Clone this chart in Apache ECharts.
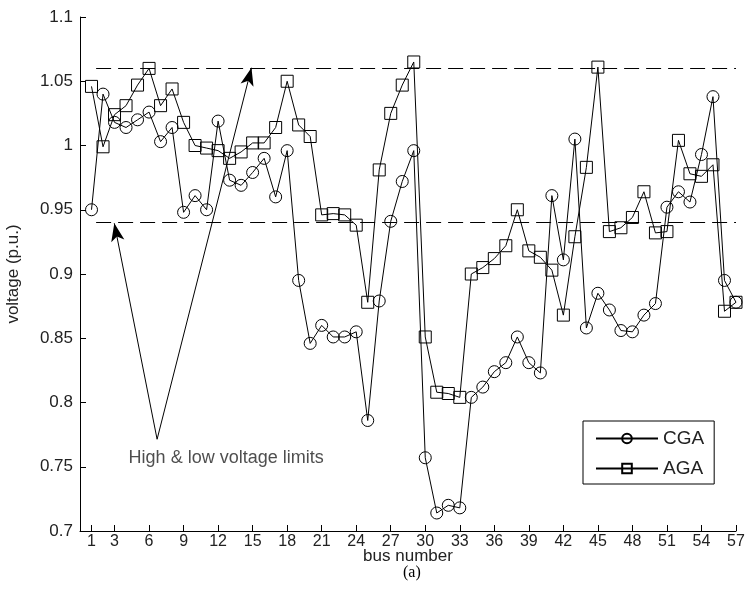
<!DOCTYPE html>
<html>
<head>
<meta charset="utf-8">
<script src="https://cdn.jsdelivr.net/npm/echarts@6/dist/echarts.min.js"></script>
<style>html,body{margin:0;padding:0;background:#fff;}#c{width:745px;height:614px;}</style>
</head>
<body>
<div id="c"></div>
<script>
const buses = [1,2,3,4,5,6,7,8,9,10,11,12,13,14,15,16,17,18,19,20,21,22,23,24,25,26,27,28,29,30,31,32,33,34,35,36,37,38,39,40,41,42,43,44,45,46,47,48,49,50,51,52,53,54,55,56,57];
const cga = [0.950,1.040,1.018,1.014,1.020,1.026,1.003,1.014,0.948,0.961,0.950,1.019,0.973,0.969,0.979,0.990,0.960,0.996,0.895,0.846,0.860,0.851,0.851,0.855,0.786,0.879,0.941,0.972,0.996,0.757,0.714,0.720,0.718,0.804,0.812,0.824,0.831,0.851,0.831,0.823,0.961,0.911,1.005,0.858,0.885,0.872,0.856,0.855,0.868,0.877,0.952,0.964,0.956,0.993,1.038,0.895,0.878];
const aga = [1.046,0.999,1.024,1.031,1.047,1.060,1.031,1.044,1.018,1.000,0.998,0.996,0.990,0.995,1.002,1.002,1.014,1.050,1.016,1.007,0.946,0.947,0.946,0.938,0.878,0.981,1.025,1.047,1.065,0.851,0.808,0.807,0.804,0.900,0.905,0.912,0.922,0.950,0.918,0.913,0.903,0.868,0.929,0.983,1.061,0.933,0.936,0.944,0.964,0.932,0.933,1.004,0.978,0.976,0.985,0.871,0.878];
const xTicks = [1,3,6,9,12,15,18,21,24,27,30,33,36,39,42,45,48,51,54,57];
const yTickLabels = ['0.7','0.75','0.8','0.85','0.9','0.95','1','1.05','1.1'];
const limits = [1.06, 0.94];
const seriesNames = ['CGA','AGA'];
const annotationText = 'High & low voltage limits';
// annotation anchor points in data space: text start, arrow apex, low-limit tip, high-limit tip
const annotationAnchor = [4.18, 0.757];
const arrowApex = [6.7, 0.7714];
const arrowLowTip = [2.98, 0.9395];
const arrowHighTip = [14.9, 1.0605];

const FONT = 'Liberation Sans';
const chart = echarts.init(document.getElementById('c'), null, {renderer:'canvas'});

function pairs(vals){ return buses.map((b,i)=>[b, vals[i]]); }
const markerStyle = {color:'rgba(0,0,0,0)', borderColor:'#000', borderWidth:1};

chart.setOption({
  animation:false,
  backgroundColor:'#fff',
  grid:{left:80, right:9, top:17, bottom:83, containLabel:false, outerBoundsMode:'none'},
  xAxis:{
    type:'value', min:0, max:57,
    name:'bus number', nameLocation:'middle', nameGap:17, nameMoveOverlap:false,
    nameTextStyle:{fontFamily:FONT, fontSize:17, color:'#222', verticalAlign:'top'},
    axisLine:{lineStyle:{color:'#000', width:1}},
    axisTick:{inside:true, length:6, lineStyle:{color:'#000'}, customValues:xTicks},
    axisLabel:{customValues:xTicks, fontFamily:FONT, fontSize:16, color:'#222', margin:3},
    splitLine:{show:false}
  },
  yAxis:{
    type:'value', min:0.7, max:1.1, interval:0.05,
    name:'voltage (p.u.)', nameLocation:'middle', nameGap:58, nameRotate:90, nameMoveOverlap:false,
    nameTextStyle:{fontFamily:FONT, fontSize:17, color:'#222'},
    axisLine:{lineStyle:{color:'#000', width:1}},
    axisTick:{inside:true, length:6, lineStyle:{color:'#000'}},
    axisLabel:{fontFamily:FONT, fontSize:17, color:'#222', margin:7,
      formatter:function(v){ const k=Math.round((v-0.7)/0.05); return yTickLabels[k]; }},
    splitLine:{show:false}
  },
  legend:{
    data:seriesNames,
    orient:'vertical', left:583, top:421,
    padding:[8,10,6,12], itemGap:11, itemWidth:62, itemHeight:12,
    borderColor:'#000', borderWidth:1, backgroundColor:'#fff',
    textStyle:{fontFamily:FONT, fontSize:19, color:'#222'}
  },
  graphic:[
    {type:'text', left:403, top:565, style:{text:'(a)', font:'16px "Liberation Serif"', fill:'#000'}}
  ],
  series:[
    {
      name:seriesNames[0], type:'line', data:pairs(cga),
      symbol:'circle', symbolSize:12, showAllSymbol:true,
      lineStyle:{color:'#000', width:1}, itemStyle:markerStyle,
      z:3
    },
    {
      name:seriesNames[1], type:'line', data:pairs(aga),
      symbol:'rect', symbolSize:12, showAllSymbol:true,
      lineStyle:{color:'#000', width:1}, itemStyle:markerStyle,
      z:3
    },
    {
      name:'limits', type:'line', data:[], silent:true,
      markLine:{
        silent:true, symbol:'none', animation:false,
        label:{show:false},
        lineStyle:{color:'#000', width:1, type:[15,7]},
        data: limits.map(v=>[{coord:[1.4, v]},{coord:[57, v]}])
      }
    },
    {
      name:'annot', type:'line', data:[], silent:true,
      markLine:{
        silent:true, animation:false,
        label:{show:false},
        lineStyle:{color:'#000', width:1, type:'solid'},
        symbolSize:[10,18],
        data:[
          [{coord:arrowApex, symbol:'none'},{coord:arrowLowTip, symbol:'arrow'}],
          [{coord:arrowApex, symbol:'none'},{coord:arrowHighTip, symbol:'arrow'}]
        ]
      }
    },
    {
      name:'annotText', type:'scatter', silent:true,
      data:[annotationAnchor], symbolSize:1,
      itemStyle:{color:'rgba(0,0,0,0)'},
      label:{show:true, position:'right', distance:0, formatter:annotationText, fontFamily:FONT, fontSize:18, color:'#222'}
    }
  ]
});
</script>
</body>
</html>
